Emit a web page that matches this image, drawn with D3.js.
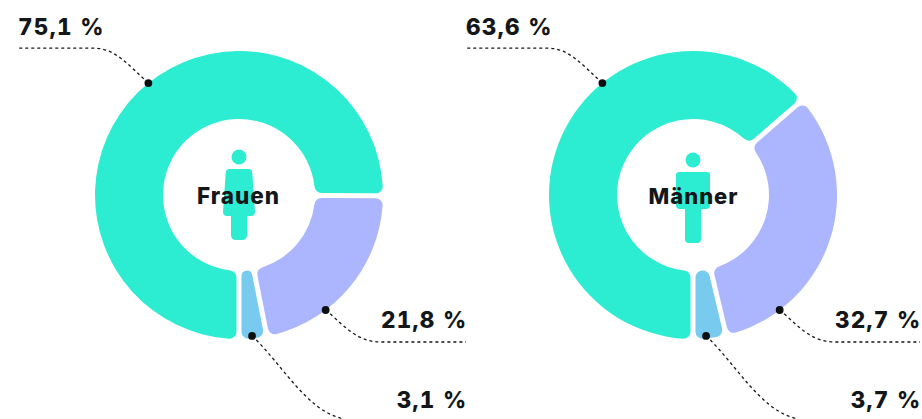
<!DOCTYPE html>
<html><head><meta charset="utf-8">
<script src="https://cdn.jsdelivr.net/npm/d3@7"></script>
<style>html,body{margin:0;padding:0;background:#fff}svg{display:block}
text{font-family:Inter,sans-serif;font-weight:800;fill:#14171a}
text.val{font-variant-numeric:tabular-nums}</style></head>
<body><svg id="c" width="922" height="419"></svg>
<script>
const categories = ["Teilzeit A", "Teilzeit B", "Teilzeit C"];
const colors = ["#2cedd2", "#abb6ff", "#78cbee"];
const frauenValues = [75.1, 21.8, 3.1];
const maennerValues = [63.6, 32.7, 3.7];
const panelNames = ["Frauen", "Männer"];
const panelCenters = [239, 693];
const labelLefts = [18, 466];
const anchorDegrees = [-39, 143, 174.7];

const svg = d3.select("#c");
const cy = 195, R = 144, r = 76, gap = 5;
const arc = d3.arc().innerRadius(r).outerRadius(R).cornerRadius(7).padRadius(R).padAngle(gap / R);
const pie = d3.pie().sort(null).startAngle(Math.PI).endAngle(3 * Math.PI);
const fmt = v => v.toFixed(1).replace(".", ",") + " %";

function figure(g, name) {
  if (name === "Frauen") {
    g.append("circle").attr("cx", 0).attr("cy", -38).attr("r", 7.5);
    g.append("path").attr("d", "M-9.5,-26H9.5Q13,-26 13.3,-22L16,17Q16,21 12,21H8V40Q8,45 3,45H-3Q-8,45 -8,40V21H-12Q-16,21 -16,17L-13.3,-22Q-13,-26 -9.5,-26Z");
  } else {
    g.append("circle").attr("cx", 0).attr("cy", -35).attr("r", 7.5);
    g.append("path").attr("d", "M-14,-23H14Q17,-23 17,-20V10Q17,14 13,14H8V44Q8,48 4,48H-4Q-8,48 -8,44V14H-13Q-17,14 -17,10V-20Q-17,-23 -14,-23Z");
  }
}

function leader(i, ax, ay, cx, left) {
  const p = d3.path();
  p.moveTo(ax, ay);
  if (i === 0) {
    p.bezierCurveTo(ax - 20, ay - 18, ax - 33, ay - 35, ax - 55, ay - 35);
    p.lineTo(left, ay - 35);
  } else if (i === 1) {
    p.bezierCurveTo(ax + 16, ay + 13, ax + 30, ay + 32, ax + 55, ay + 32);
    p.lineTo(cx + 227, ay + 32);
  } else {
    p.bezierCurveTo(ax + 30, ay + 28, ax + 55, ay + 76, ax + 92, ay + 83);
  }
  return p.toString();
}

[frauenValues, maennerValues].forEach((vals, k) => {
  const cx = panelCenters[k];
  const g = svg.append("g").attr("transform", `translate(${cx},${cy})`);
  g.selectAll("path.slice").data(pie(vals)).join("path").attr("class", "slice")
    .attr("d", arc).attr("fill", (d, i) => colors[i]);

  const fig = g.append("g").attr("fill", colors[0]);
  figure(fig, panelNames[k]);

  g.append("text").attr("text-anchor", "middle").attr("x", k ? 0.5 : -0.5).attr("y", 9)
    .attr("font-size", k ? 22 : 22.5).attr("letter-spacing", 1).text(panelNames[k]);

  vals.forEach((v, i) => {
    const a = anchorDegrees[i] * Math.PI / 180;
    const rad = i === 2 ? R - 2.5 : R;
    const ax = cx + rad * Math.sin(a), ay = cy - rad * Math.cos(a);
    svg.append("path").attr("d", leader(i, ax, ay, cx, labelLefts[k])).attr("fill", "none")
      .attr("stroke", "#14171a").attr("stroke-width", 1.3).attr("stroke-dasharray", "3 3");
    svg.append("circle").attr("cx", ax).attr("cy", ay).attr("r", 3.9).attr("fill", "#0c0e10");
    const t = svg.append("text").attr("class", "val").attr("font-size", 22.5).attr("letter-spacing", 1.3).text(fmt(v));
    if (i === 0) t.attr("x", labelLefts[k]).attr("y", 35);
    else t.attr("text-anchor", "end").attr("x", cx + 228.5).attr("y", i === 1 ? 328 : 408);
  });
});
</script></body></html>
